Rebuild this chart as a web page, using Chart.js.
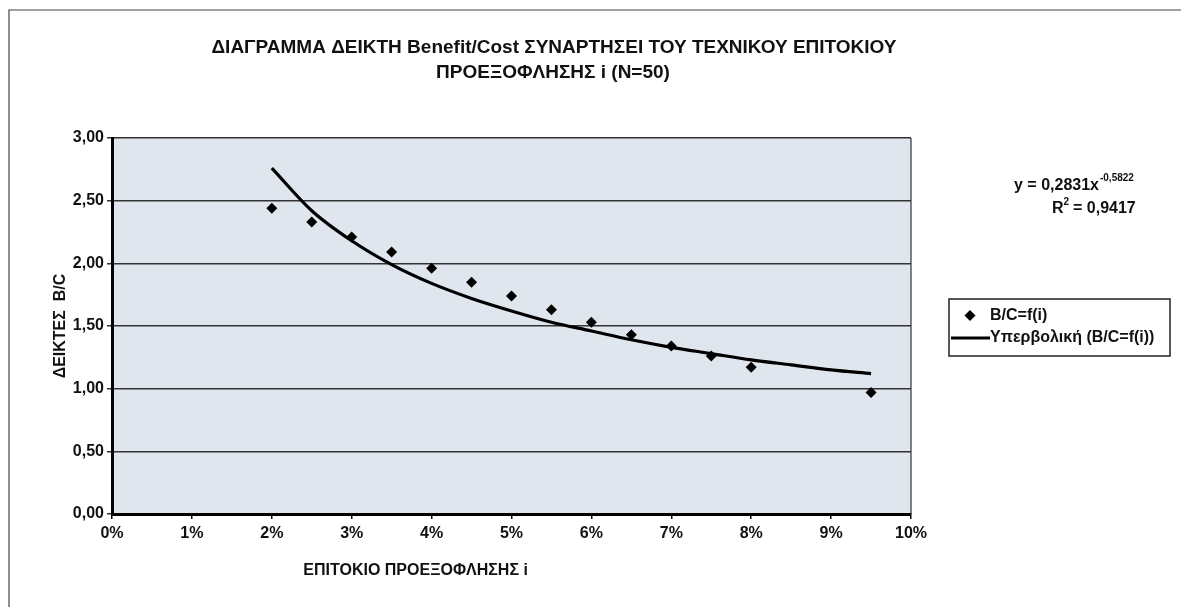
<!DOCTYPE html>
<html><head><meta charset="utf-8">
<script src="https://cdn.jsdelivr.net/npm/chart.js@4.4.1/dist/chart.umd.min.js"></script>
<style>html,body{margin:0;padding:0;background:#fff}#wrap{width:1181px;height:607px;position:relative}</style>
</head><body><div id="wrap"><canvas id="c" width="1181" height="607"></canvas></div>
<script>
const titleLines = ["ΔΙΑΓΡΑΜΜΑ ΔΕΙΚΤΗ Benefit/Cost ΣΥΝΑΡΤΗΣΕΙ ΤΟΥ ΤΕΧΝΙΚΟΥ ΕΠΙΤΟΚΙΟΥ", "ΠΡΟΕΞΟΦΛΗΣΗΣ i (N=50)"];
const xTitle = "ΕΠΙΤΟΚΙΟ ΠΡΟΕΞΟΦΛΗΣΗΣ i";
const yTitle = "ΔΕΙΚΤΕΣ  B/C";
const seriesLabel = "B/C=f(i)";
const trendLabel = "Υπερβολική (B/C=f(i))";
const equationText = "y = 0,2831x";
const equationExp = "-0,5822";
const r2Text = "= 0,9417";
// interest rates (fraction) and B/C values
const rates = [0.02,0.025,0.03,0.035,0.04,0.045,0.05,0.055,0.06,0.065,0.07,0.075,0.08,0.095];
const bcValues = [2.44,2.33,2.21,2.09,1.96,1.85,1.74,1.63,1.53,1.43,1.34,1.26,1.17,0.97];
// trend line
const trendRates = [0.02,0.025,0.03,0.035,0.04,0.045,0.05,0.055,0.06,0.065,0.07,0.075,0.08,0.085,0.09,0.095];
const trendValues = [2.76,2.42,2.18,1.99,1.84,1.72,1.62,1.53,1.46,1.39,1.33,1.28,1.23,1.19,1.15,1.12];
const xTicks = [0,0.01,0.02,0.03,0.04,0.05,0.06,0.07,0.08,0.09,0.10];
const yTicks = [0,0.5,1,1.5,2,2.5,3];

const F = "'Liberation Sans', Arial, sans-serif";

const deco = {
  id:'deco',
  beforeDraw(chart){
    const {ctx, chartArea:a} = chart;
    ctx.save();
    ctx.fillStyle = '#e0e6ed';
    ctx.fillRect(a.left, a.top, a.right-a.left, a.bottom-a.top);
    ctx.restore();
  },
  afterDraw(chart){
    const {ctx, chartArea:a} = chart;
    ctx.save();
    // outer frame (top & left)
    ctx.strokeStyle = '#444'; ctx.lineWidth = 1.2;
    ctx.beginPath(); ctx.moveTo(9, 607); ctx.lineTo(9, 10); ctx.lineTo(1181, 10); ctx.stroke();
    // right border of plot
    ctx.strokeStyle = '#333'; ctx.lineWidth = 1.2;
    ctx.beginPath(); ctx.moveTo(a.right, a.top); ctx.lineTo(a.right, a.bottom); ctx.stroke();
    // title
    ctx.fillStyle = '#111'; ctx.textAlign = 'center'; ctx.textBaseline = 'middle';
    ctx.font = "bold 19px " + F;
    ctx.fillText(titleLines[0], 554, 48);
    ctx.fillText(titleLines[1], 553, 73);
    // axis titles
    ctx.font = "bold 16px " + F;
    ctx.fillText(xTitle, a.left + (a.right-a.left)*0.38, 571);
    ctx.save(); ctx.translate(61, (a.top+a.bottom)/2); ctx.rotate(-Math.PI/2);
    ctx.fillText(yTitle, 0, 0); ctx.restore();
    // equation
    ctx.font = "bold 16px " + F; ctx.textAlign = 'left';
    ctx.fillText(equationText, 1014, 186);
    const w = ctx.measureText(equationText).width;
    ctx.font = "bold 10px " + F;
    ctx.fillText(equationExp, 1014 + w + 1, 178);
    ctx.font = "bold 16px " + F;
    ctx.fillText("R", 1052, 209);
    const rw = ctx.measureText("R").width;
    ctx.font = "bold 10px " + F; ctx.fillText("2", 1052+rw, 202);
    ctx.font = "bold 16px " + F; ctx.fillText(" " + r2Text, 1052+rw+5, 209);
    // legend
    ctx.fillStyle = '#fff'; ctx.strokeStyle = '#222'; ctx.lineWidth = 1.5;
    ctx.fillRect(949, 299, 221, 57); ctx.strokeRect(949, 299, 221, 57);
    const ds = chart.data.datasets;
    ctx.fillStyle = '#000';
    ctx.beginPath(); ctx.moveTo(970, 310); ctx.lineTo(975.5, 315.5); ctx.lineTo(970, 321); ctx.lineTo(964.5, 315.5); ctx.closePath(); ctx.fill();
    ctx.lineWidth = 3; ctx.strokeStyle = '#000';
    ctx.beginPath(); ctx.moveTo(951, 338); ctx.lineTo(990, 338); ctx.stroke();
    ctx.fillStyle = '#111'; ctx.font = "bold 16px " + F; ctx.textAlign = 'left';
    ctx.fillText(ds[0].label, 990, 316);
    ctx.fillText(ds[1].label, 990, 338);
    ctx.restore();
  }
};

new Chart(document.getElementById('c'), {
  type: 'scatter',
  data: {
    datasets: [
      { label: seriesLabel, data: rates.map((r,i)=>({x:r, y:bcValues[i]})),
        pointStyle:'rectRot', pointRadius:5.5, backgroundColor:'#000', borderColor:'#000', borderWidth:0, order:2 },
      { label: trendLabel, type:'line', data: trendRates.map((r,i)=>({x:r, y:trendValues[i]})),
        showLine:true, pointRadius:0, borderColor:'#000', borderWidth:3.2, tension:0.4, cubicInterpolationMode:'monotone', fill:false, order:1 }
    ]
  },
  plugins:[deco],
  options: {
    responsive:false, animation:false, devicePixelRatio:1,
    layout:{ padding:{ left:10, right:270, top:138, bottom:0 } },
    plugins:{ legend:{display:false}, title:{display:false}, tooltip:{enabled:false} },
    scales:{
      x:{ type:'linear', min:0, max:0.1,
        afterBuildTicks(s){ s.ticks = xTicks.map(v=>({value:v})); },
        afterFit(s){ s.height = 93; },
        grid:{ drawOnChartArea:false, drawTicks:true, tickLength:5, color:'#000', lineWidth:1.5 },
        border:{ color:'#000', width:3 },
        ticks:{ color:'#111', font:{family:F, size:16, weight:'bold'}, padding:5,
          callback:v=>Math.round(v*100)+'%' , maxRotation:0 }
      },
      y:{ type:'linear', min:0, max:3,
        afterBuildTicks(s){ s.ticks = yTicks.map(v=>({value:v})); },
        afterFit(s){ s.width = 102; },
        grid:{ color:'#333', lineWidth:1.5, tickLength:5, drawTicks:true },
        border:{ color:'#000', width:3 },
        ticks:{ color:'#111', font:{family:F, size:16, weight:'bold'}, padding:3,
          callback:v=>v.toFixed(2).replace('.',',') }
      }
    }
  }
});
</script></body></html>
